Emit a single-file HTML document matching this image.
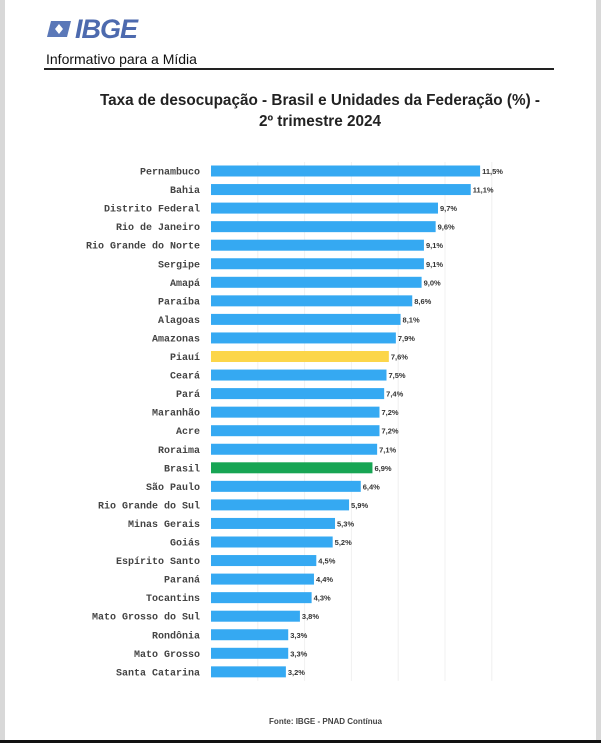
<!DOCTYPE html>
<html><head><meta charset="utf-8"><style>
body{margin:0;width:601px;height:743px;background:#fff;overflow:hidden;position:relative;font-family:"Liberation Sans",sans-serif}
.frameL{position:absolute;left:0;top:0;width:5px;height:743px;background:#d8d8d8}
.frameR{position:absolute;right:0;top:0;width:5px;height:743px;background:#d8d8d8}
.frameB{position:absolute;left:0;bottom:0;width:601px;height:3px;background:#111}
</style></head><body>
<div class="frameL"></div>
<div class="frameR"></div>
<div class="frameB"></div>
<div style="position:absolute;left:47px;top:16px;height:26px;display:flex;align-items:center">
<svg width="26" height="20"><polygon points="4,2 24,2 20,18 0,18" fill="#5b78b8"/><polygon points="12,5 16,10 12,15 8,10" fill="#fff"/></svg>
<span style="font-weight:bold;font-style:italic;font-size:27px;color:#4d6aae;margin-left:2px;letter-spacing:-1px">IBGE</span></div>
<div style="position:absolute;left:46px;top:51px;font-size:14px;color:#111">Informativo para a Mídia</div>
<div style="position:absolute;left:44px;top:68px;width:510px;height:2px;background:#222"></div>
<div style="position:absolute;left:20px;width:600px;top:90px;text-align:center;font-weight:bold;font-size:15.3px;color:#222;line-height:21px">Taxa de desocupação - Brasil e Unidades da Federação (%) -<br>2º trimestre 2024</div>
<svg id="chart" width="601" height="743" style="position:absolute;left:0;top:0"></svg>
<div style="position:absolute;left:0;width:651px;top:717px;text-align:center;font-size:8px;font-weight:bold;color:#444">Fonte: IBGE - PNAD Contínua</div>
<script>
const categories=["Pernambuco","Bahia","Distrito Federal","Rio de Janeiro","Rio Grande do Norte","Sergipe","Amapá","Paraíba","Alagoas","Amazonas","Piauí","Ceará","Pará","Maranhão","Acre","Roraima","Brasil","São Paulo","Rio Grande do Sul","Minas Gerais","Goiás","Espírito Santo","Paraná","Tocantins","Mato Grosso do Sul","Rondônia","Mato Grosso","Santa Catarina"];
const values=[11.5,11.1,9.7,9.6,9.1,9.1,9.0,8.6,8.1,7.9,7.6,7.5,7.4,7.2,7.2,7.1,6.9,6.4,5.9,5.3,5.2,4.5,4.4,4.3,3.8,3.3,3.3,3.2];
const labels=["11,5%","11,1%","9,7%","9,6%","9,1%","9,1%","9,0%","8,6%","8,1%","7,9%","7,6%","7,5%","7,4%","7,2%","7,2%","7,1%","6,9%","6,4%","5,9%","5,3%","5,2%","4,5%","4,4%","4,3%","3,8%","3,3%","3,3%","3,2%"];
const gridTicks=[2,4,6,8,10,12];
const svg=document.getElementById('chart');
const NS='http://www.w3.org/2000/svg';
const x0=211,scale=23.4,y0=171,step=18.55,bh=11;
const xs=v=>x0+v*scale, ys=i=>y0+i*step;
gridTicks.forEach(t=>{const l=document.createElementNS(NS,'line');


l.setAttribute('x1',xs(t));l.setAttribute('x2',xs(t));l.setAttribute('y1',ys(0)-9);l.setAttribute('y2',ys(categories.length-1)+9);
l.setAttribute('stroke','#f0f0f0');l.setAttribute('stroke-width','1');svg.appendChild(l);});
categories.forEach((c,i)=>{
const col=c==='Piauí'?'#fcd64a':c==='Brasil'?'#17a554':'#35a9f2';
const r=document.createElementNS(NS,'rect');


r.setAttribute('x',x0);r.setAttribute('y',ys(i)-bh/2);r.setAttribute('width',xs(values[i])-x0);r.setAttribute('height',bh);r.setAttribute('fill',col);svg.appendChild(r);
const t=document.createElementNS(NS,'text');


t.setAttribute('x',200);t.setAttribute('y',ys(i)+3.5);t.setAttribute('text-anchor','end');
t.setAttribute('font-family','Liberation Mono, monospace');t.setAttribute('font-size','10');t.setAttribute('font-weight','bold');t.setAttribute('fill','#444');
t.textContent=c;svg.appendChild(t);
const v=document.createElementNS(NS,'text');


v.setAttribute('x',xs(values[i])+2);v.setAttribute('y',ys(i)+3);
v.setAttribute('font-family','Liberation Sans, sans-serif');v.setAttribute('font-size','7.5');v.setAttribute('font-weight','bold');v.setAttribute('fill','#333');
v.textContent=labels[i];svg.appendChild(v);
});
</script>
</body></html>
